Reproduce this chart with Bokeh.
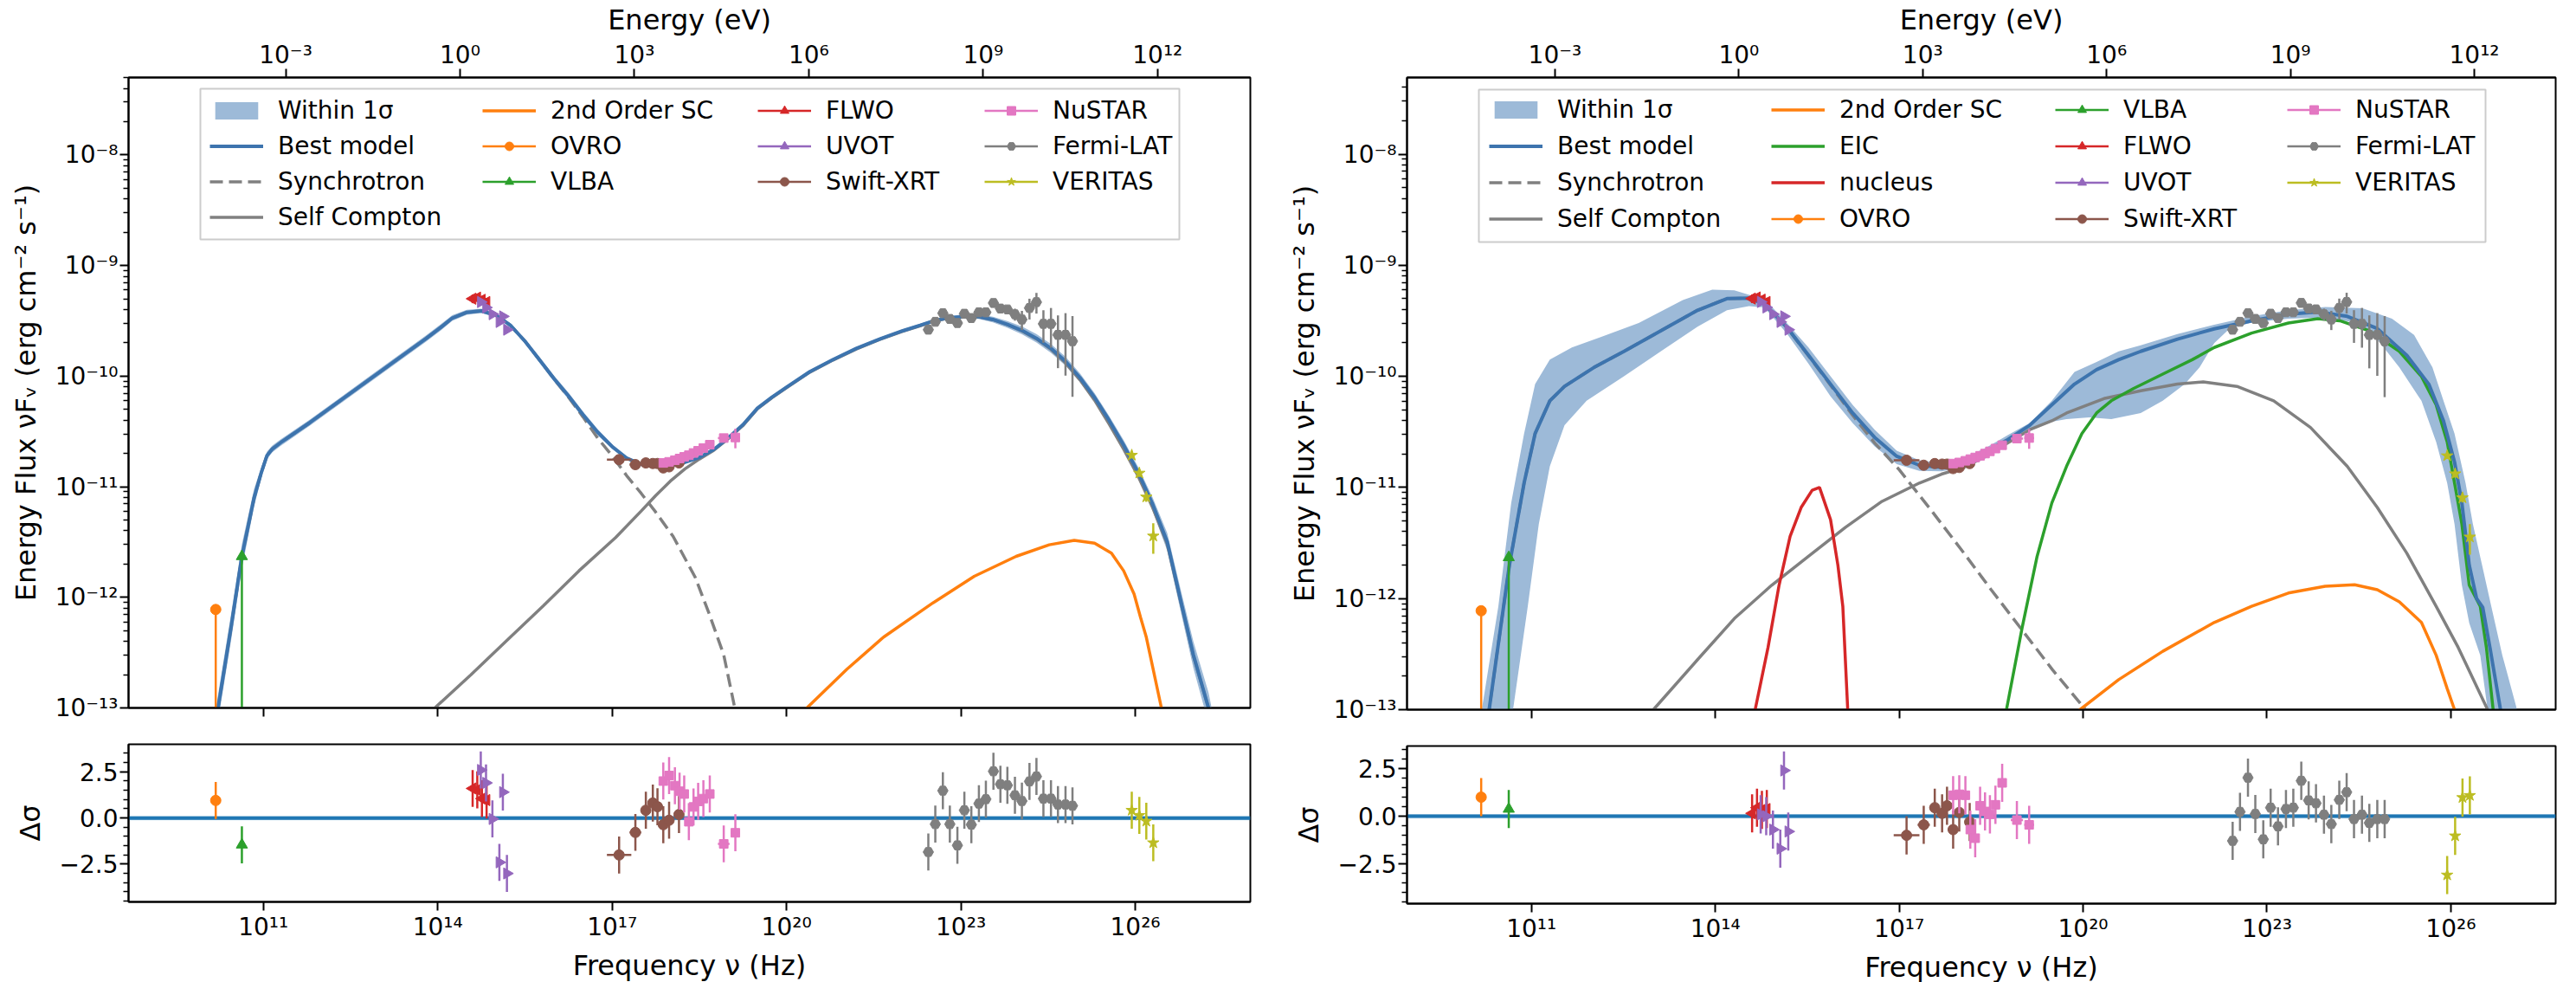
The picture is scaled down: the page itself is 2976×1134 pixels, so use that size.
import numpy as np
from bokeh.plotting import figure
from bokeh.models import (Range1d, LogAxis, LogScale, FixedTicker, Legend, LegendItem,
                          CustomJSTickFormatter, Span, BoxAnnotation)
from bokeh.layouts import row, column
from bokeh.embed import file_html
from bokeh.resources import INLINE

H_EV = 4.135667696e-15  # eV per Hz (top axis)
FONT = "DejaVu Sans"

# ------------------------------------------------------------------ data
# observations (log10 frequency in Hz, log10 nuFnu in erg cm^-2 s^-1, linear errors)
ovro_lognu = [10.18]
ovro_logF = [-12.11]
ovro_err_lo = [7.8e-13]
ovro_err_hi = [0.0]

vlba_lognu = [10.63]
vlba_logF = [-11.63]
vlba_err_lo = [2.34e-12]
vlba_err_hi = [0.0]

flwo_lognu = [14.60, 14.68, 14.76, 14.84]
flwo_logF = [-9.30, -9.29, -9.31, -9.33]
flwo_err = [4.5e-11, 4.5e-11, 4.3e-11, 4.2e-11]

uvot_lognu = [14.74, 14.83, 14.94, 15.06, 15.12, 15.19]
uvot_logF = [-9.33, -9.38, -9.44, -9.51, -9.46, -9.58]
uvot_err = [2.2e-11, 2.0e-11, 1.7e-11, 1.5e-11, 1.6e-11, 1.3e-11]

xrt_lognu = [17.12, 17.40, 17.58, 17.70, 17.78, 17.88, 17.98, 18.15]
xrt_logF = [-10.755, -10.80, -10.785, -10.79, -10.79, -10.83, -10.82, -10.785]
xrt_err = [9e-13, 8e-13, 8e-13, 8e-13, 8e-13, 7e-13, 8e-13, 8e-13]
xrt_xhw = [0.21, 0.10, 0.08, 0.06, 0.05, 0.05, 0.05, 0.06]

nustar_lognu = [17.88, 17.98, 18.08, 18.16, 18.24, 18.32, 18.40, 18.48, 18.57, 18.68, 18.92, 19.12]
nustar_logF = [-10.785, -10.775, -10.76, -10.745, -10.73, -10.715, -10.695, -10.675, -10.65,
               -10.62, -10.56, -10.555]
nustar_err = [4.9e-13, 5.0e-13, 5.2e-13, 5.4e-13, 6.5e-13, 6.8e-13, 8.1e-13, 8.5e-13, 1.0e-12,
              1.2e-12, 2.2e-12, 5.6e-12]
nustar_xhw = [0.04, 0.04, 0.04, 0.04, 0.04, 0.04, 0.04, 0.04, 0.05, 0.06, 0.10, 0.08]

fermi_lognu = [22.44, 22.56, 22.69, 22.81, 22.94, 23.06, 23.18, 23.31, 23.43, 23.56, 23.68,
               23.80, 23.93, 24.05, 24.18, 24.30, 24.42, 24.55, 24.67, 24.80, 24.92]
fermi_logF = [-9.580, -9.509, -9.431, -9.483, -9.520, -9.436, -9.475, -9.423, -9.423, -9.339,
              -9.389, -9.397, -9.441, -9.488, -9.384, -9.331, -9.527, -9.527, -9.627, -9.627,
              -9.684]
fermi_err = [1.5e-11, 1.6e-11, 1.8e-11, 1.7e-11, 1.7e-11, 2.0e-11, 2.0e-11, 2.3e-11, 2.5e-11,
             3.0e-11, 3.2e-11, 3.5e-11, 4.5e-11, 6.4e-11, 8.8e-11, 9.9e-11, 9.7e-11, 1.16e-10,
             1.18e-10, 1.35e-10, 1.42e-10]

veritas_lognu = [25.94, 26.07, 26.19, 26.31]
veritas_logF = [-10.715, -10.877, -11.093, -11.446]
veritas_err = [1.2e-12, 1.0e-12, 7.6e-13, 1.1e-12]
veritas_xhw = [0.04, 0.04, 0.04, 0.04]

# residuals (Delta sigma), left model and right model
res_left = dict(
    ovro=[0.95], vlba=[-1.45],
    flwo=[1.6, 1.52, 1.05, 0.97],
    uvot=[2.6, 1.9, -0.05, -2.4, 1.4, -3.0],
    xrt=[-2.0, -0.78, 0.42, 0.81, 0.61, -0.36, -0.12, 0.19],
    nustar=[2.0, 2.3, 1.75, 1.45, 1.3, -0.2, 0.6, 0.9, 1.05, 1.3, -1.4, -0.8],
    fermi=[-1.84, -0.33, 1.48, -0.33, -1.48, 0.42, -0.36, 0.78, 1.02, 2.53, 1.83, 1.77, 1.23,
           0.92, 1.98, 2.25, 1.05, 1.05, 0.73, 0.73, 0.66],
    veritas=[0.42, 0.14, -0.17, -1.34],
)
res_right = dict(
    ovro=[1.0], vlba=[0.38],
    flwo=[0.15, 0.45, 0.33, 0.38],
    uvot=[0.1, 0.0, -0.7, -1.7, 2.4, -0.8],
    xrt=[-1.0, -0.45, 0.45, 0.15, 0.55, -0.7, 0.2, -0.3],
    nustar=[1.1, 1.15, 1.1, -0.7, -1.15, 0.55, 0.25, 0.1, 0.6, 1.75, -0.2, -0.45],
    fermi=[-1.29, 0.23, 2.02, 0.12, -1.21, 0.45, -0.53, 0.38, 0.45, 1.86, 0.83, 0.68, 0.08,
           -0.41, 0.86, 1.26, -0.15, 0.08, -0.35, -0.15, -0.15],
    veritas=[-3.08, -1.03, 0.98, 1.09],
)

# ---- left model (SSC)
LB_lognu = [10.05, 10.22, 10.45, 10.63, 10.84, 10.96, 11.06, 11.15, 11.30, 11.80, 12.30, 12.80,
            13.30, 13.80, 14.05, 14.25, 14.50, 14.75, 15.00, 15.25, 15.50, 15.75, 16.00, 16.25,
            16.50, 16.75, 17.00, 17.25, 17.50, 17.75, 18.00, 18.25, 18.50, 18.75, 19.00, 19.25,
            19.50, 19.75, 20.00, 20.40, 20.80, 21.20, 21.60, 22.00, 22.30, 22.55, 22.80, 23.05,
            23.30, 23.55, 23.80, 24.05, 24.30, 24.55, 24.80, 25.05, 25.30, 25.55, 25.80, 26.05,
            26.30, 26.55, 26.80, 27.00, 27.26, 27.45]
LB_logF = [-13.55, -13.00, -12.25, -11.63, -11.10, -10.88, -10.72, -10.66, -10.60, -10.42,
           -10.23, -10.04, -9.85, -9.66, -9.56, -9.475, -9.423, -9.41, -9.449, -9.54, -9.684,
           -9.853, -10.023, -10.18, -10.35, -10.506, -10.637, -10.741, -10.798, -10.819,
           -10.811, -10.78, -10.736, -10.663, -10.558, -10.44, -10.29, -10.19, -10.10, -9.96,
           -9.85, -9.75, -9.665, -9.59, -9.54, -9.497, -9.472, -9.462, -9.462, -9.488, -9.532,
           -9.587, -9.658, -9.749, -9.866, -10.015, -10.193, -10.40, -10.624, -10.871, -11.159,
           -11.498, -12.07, -12.52, -13.00, -13.50]
LB_band_hw = [0.12, 0.12, 0.12, 0.11, 0.08, 0.05, 0.035, 0.03, 0.03, 0.028, 0.028, 0.028, 0.028,
              0.028, 0.028, 0.025, 0.022, 0.02, 0.018, 0.018, 0.02, 0.025, 0.028, 0.03, 0.03,
              0.028, 0.022, 0.018, 0.015, 0.013, 0.013, 0.013, 0.013, 0.013, 0.013, 0.013,
              0.013, 0.013, 0.013, 0.013, 0.013, 0.013, 0.013, 0.013, 0.014, 0.015, 0.016,
              0.018, 0.02, 0.025, 0.03, 0.035, 0.038, 0.04, 0.04, 0.04, 0.04, 0.04, 0.045, 0.05,
              0.06, 0.08, 0.10, 0.12, 0.14, 0.15]
LS_lognu = [10.05, 10.22, 10.45, 10.63, 10.84, 10.96, 11.06, 11.15, 11.30, 11.80, 12.30, 12.80,
            13.30, 13.80, 14.05, 14.25, 14.50, 14.75, 15.00, 15.25, 15.50, 15.75, 16.00, 16.25,
            16.50, 16.75, 17.00, 17.25, 17.50, 17.75, 18.05, 18.43, 18.67, 18.92, 19.11, 19.25]
LS_logF = [-13.55, -13.00, -12.25, -11.63, -11.10, -10.88, -10.72, -10.66, -10.60, -10.42,
           -10.23, -10.04, -9.85, -9.66, -9.56, -9.475, -9.423, -9.41, -9.449, -9.54, -9.684,
           -9.853, -10.025, -10.19, -10.37, -10.56, -10.72, -10.90, -11.06, -11.23, -11.45,
           -11.82, -12.15, -12.52, -13.0, -13.4]
LSC_lognu = [13.80, 13.95, 14.57, 15.19, 15.81, 16.43, 17.06, 17.50, 17.75, 18.00, 18.25, 18.50,
             18.75, 19.00, 19.25, 19.50, 19.75, 20.00, 20.40, 20.80, 21.20, 21.60, 22.00, 22.30,
             22.55, 22.80, 23.05, 23.30, 23.55, 23.80, 24.05, 24.30, 24.55, 24.80, 25.05, 25.30,
             25.55, 25.80, 26.05, 26.30, 26.55, 26.80, 27.00, 27.26, 27.45]
LSC_logF = [-13.08, -13.0, -12.70, -12.39, -12.08, -11.76, -11.46, -11.22, -11.08, -10.95,
            -10.84, -10.75, -10.67, -10.565, -10.448, -10.295, -10.195, -10.105, -9.965,
            -9.855, -9.755, -9.67, -9.595, -9.545, -9.50, -9.475, -9.464, -9.464, -9.49,
            -9.535, -9.591, -9.664, -9.758, -9.880, -10.035, -10.218, -10.432, -10.66, -10.905,
            -11.19, -11.52, -12.08, -12.53, -13.0, -13.5]
L2_lognu = [20.20, 20.35, 21.04, 21.67, 22.52, 23.23, 23.95, 24.52, 24.95, 25.30, 25.59, 25.80,
            25.98, 26.09, 26.19, 26.45, 26.55]
L2_logF = [-13.1, -13.0, -12.65, -12.36, -12.05, -11.81, -11.63, -11.525, -11.485, -11.51,
           -11.60, -11.76, -11.97, -12.18, -12.36, -13.0, -13.3]

# ---- right model (SSC + EIC + nucleus)
RB_lognu = [10.15, 10.31, 10.64, 10.88, 11.06, 11.30, 11.54, 12.02, 12.51, 13.11, 13.71, 14.19,
            14.55, 14.80, 15.16, 15.52, 15.88, 16.24, 16.60, 16.96, 17.33, 17.69, 18.05, 18.41,
            18.77, 19.13, 19.49, 19.86, 20.22, 20.58, 20.94, 21.54, 22.14, 22.75, 23.35, 23.83,
            24.31, 24.80, 25.28, 25.64, 25.88, 26.06, 26.18, 26.30, 26.42, 26.52, 26.64, 26.81,
            26.95]
RB_logF = [-13.6, -13.0, -11.70, -10.96, -10.515, -10.22, -10.09, -9.92, -9.775, -9.59, -9.405,
           -9.30, -9.295, -9.35, -9.553, -9.81, -10.07, -10.33, -10.55, -10.72, -10.80, -10.82,
           -10.775, -10.68, -10.57, -10.44, -10.256, -10.07, -9.94, -9.85, -9.775, -9.665,
           -9.572, -9.50, -9.44, -9.42, -9.46, -9.57, -9.81, -10.07, -10.40, -10.77, -11.14,
           -11.70, -12.0, -12.08, -12.45, -13.0, -13.5]
RU_lognu = [10.05, 10.19, 10.46, 10.67, 10.88, 11.06, 11.30, 11.66, 12.14, 12.75, 13.47, 13.95,
            14.31, 14.61, 14.85, 15.16, 15.52, 15.88, 16.24, 16.60, 16.96, 17.33, 17.69, 18.05,
            18.41, 18.77, 19.13, 19.49, 19.86, 20.22, 20.58, 20.94, 21.54, 22.14, 22.75, 23.35,
            23.95, 24.56, 25.04, 25.40, 25.70, 25.88, 26.06, 26.24, 26.36, 26.51, 26.66, 26.84,
            27.08, 27.20]
RU_logF = [-13.5, -13.0, -12.07, -11.14, -10.515, -10.07, -9.85, -9.74, -9.645, -9.52, -9.313,
           -9.22, -9.225, -9.276, -9.33, -9.516, -9.74, -10.0, -10.256, -10.48, -10.67, -10.755,
           -10.78, -10.737, -10.645, -10.53, -10.42, -10.22, -9.96, -9.87, -9.775, -9.72,
           -9.62, -9.535, -9.46, -9.405, -9.376, -9.387, -9.48, -9.627, -9.92, -10.22, -10.515,
           -10.96, -11.33, -11.70, -12.07, -12.51, -13.0, -13.3]
RL_lognu = [10.62, 10.70, 10.94, 11.12, 11.30, 11.54, 11.90, 12.51, 13.11, 13.71, 14.19, 14.55,
            14.80, 15.16, 15.52, 15.88, 16.24, 16.60, 16.96, 17.33, 17.69, 18.05, 18.41, 18.77,
            19.13, 19.37, 19.73, 20.10, 20.46, 20.94, 21.30, 21.66, 21.90, 22.14, 22.39, 22.75,
            23.35, 23.95, 24.43, 24.80, 25.16, 25.52, 25.76, 25.94, 26.06, 26.18, 26.30, 26.48,
            26.60, 26.70]
RL_logF = [-13.5, -13.0, -12.07, -11.33, -10.81, -10.44, -10.22, -10.0, -9.775, -9.553, -9.405,
           -9.368, -9.38, -9.61, -9.886, -10.18, -10.42, -10.63, -10.79, -10.85, -10.855,
           -10.82, -10.737, -10.61, -10.48, -10.42, -10.385, -10.37, -10.385, -10.33, -10.22,
           -10.07, -9.92, -9.70, -9.57, -9.516, -9.48, -9.47, -9.516, -9.665, -9.92, -10.22,
           -10.59, -10.96, -11.33, -11.88, -12.22, -12.51, -13.0, -13.4]
RS_lognu = [10.15, 10.31, 10.64, 10.88, 11.06, 11.30, 11.54, 12.02, 12.51, 13.11, 13.71, 14.19,
            14.55, 14.80, 15.16, 15.52, 15.88, 16.24, 16.60, 17.00, 17.50, 18.00, 18.50, 19.00,
            19.50, 20.04, 20.20]
RS_logF = [-13.6, -13.0, -11.70, -10.96, -10.515, -10.22, -10.09, -9.92, -9.775, -9.59, -9.405,
           -9.30, -9.295, -9.35, -9.555, -9.815, -10.08, -10.35, -10.60, -10.84, -11.19,
           -11.55, -11.92, -12.28, -12.64, -13.0, -13.12]
RSC_lognu = [12.80, 12.99, 13.71, 14.31, 14.92, 15.52, 16.12, 16.72, 17.33, 17.69, 18.05,
             18.41, 18.77, 19.13, 19.49, 19.73, 20.34, 20.94, 21.54, 21.96, 22.51, 23.11,
             23.71, 24.31, 24.80, 25.28, 25.76, 26.12, 26.60, 26.75]
RSC_logF = [-13.1, -13.0, -12.55, -12.18, -11.88, -11.62, -11.36, -11.125, -10.96, -10.88,
            -10.82, -10.72, -10.60, -10.48, -10.40, -10.33, -10.20, -10.13, -10.07, -10.05,
            -10.09, -10.22, -10.46, -10.81, -11.18, -11.59, -12.07, -12.44, -13.0, -13.2]
R2_lognu = [19.85, 19.95, 20.58, 21.30, 22.14, 22.75, 23.35, 23.95, 24.43, 24.80, 25.16, 25.52,
            25.76, 25.94, 26.06, 26.12]
R2_logF = [-13.04, -13.0, -12.73, -12.475, -12.215, -12.07, -11.95, -11.89, -11.876, -11.92,
           -12.03, -12.215, -12.51, -12.81, -13.0, -13.15]
REIC_lognu = [18.65, 18.75, 19.01, 19.25, 19.49, 19.73, 19.98, 20.22, 20.46, 20.82, 21.30,
              21.78, 22.14, 22.75, 23.35, 23.83, 24.19, 24.67, 25.16, 25.52, 25.76, 25.94,
              26.06, 26.18, 26.30, 26.48, 26.58, 26.69, 26.75]
REIC_logF = [-13.5, -13.0, -12.25, -11.62, -11.14, -10.81, -10.515, -10.33, -10.22, -10.11,
             -9.98, -9.85, -9.74, -9.61, -9.52, -9.48, -9.50, -9.59, -9.775, -10.0, -10.256,
             -10.59, -10.96, -11.33, -11.88, -12.07, -12.44, -13.0, -13.3]
RN_lognu = [14.60, 14.65, 14.86, 15.04, 15.22, 15.40, 15.58, 15.70, 15.88, 16.00, 16.08, 16.16,
            16.20]
RN_logF = [-13.3, -13.0, -12.44, -11.88, -11.44, -11.18, -11.025, -11.0, -11.29, -11.70, -12.07,
           -13.0, -13.4]

# axis tick positions
nu_ticks = [1e11, 1e14, 1e17, 1e20, 1e23, 1e26]
ev_ticks = [1e-3, 1e0, 1e3, 1e6, 1e9, 1e12]
flux_ticks = [1e-13, 1e-12, 1e-11, 1e-10, 1e-9, 1e-8]
res_ticks = [-2.5, 0.0, 2.5]

# legend columns (matplotlib fills columns first)
LEG_LEFT = [["Within 1\u03c3", "Best model", "Synchrotron", "Self Compton"],
            ["2nd Order SC", "OVRO", "VLBA"],
            ["FLWO", "UVOT", "Swift-XRT"],
            ["NuSTAR", "Fermi-LAT", "VERITAS"]]
LEG_RIGHT = [["Within 1\u03c3", "Best model", "Synchrotron", "Self Compton"],
             ["2nd Order SC", "EIC", "nucleus", "OVRO"],
             ["VLBA", "FLWO", "UVOT", "Swift-XRT"],
             ["NuSTAR", "Fermi-LAT", "VERITAS"]]

# ------------------------------------------------------------------ style
COL = dict(blue="#1f77b4", orange="#ff7f0e", green="#2ca02c", red="#d62728",
           purple="#9467bd", brown="#8c564b", pink="#e377c2", gray="#7f7f7f", olive="#bcbd22")
MODEL = "#3d74ae"
BAND = "#9dbad8"
COMP = "#808080"

POW_JS = """
const sup = {"0":"\u2070","1":"\u00b9","2":"\u00b2","3":"\u00b3","4":"\u2074","5":"\u2075",
             "6":"\u2076","7":"\u2077","8":"\u2078","9":"\u2079","-":"\u207b"};
const k = Math.round(Math.log10(tick));
let s = "";
for (const c of String(k)) { s += sup[c]; }
return "10" + s;
"""
RES_JS = 'return tick.toFixed(1).replace("-", "\u2212");'
EMPTY_JS = 'return "";'

flux_minor = [m * 10.0 ** d for d in range(-13, -7) for m in range(2, 10)]
res_minor = [v / 2.0 for v in range(-9, 8) if v not in (-5, 0, 5)]


def style_axis(ax):
    ax.axis_line_width = 2
    ax.major_tick_line_width = 2
    ax.minor_tick_line_width = 1.5
    ax.major_tick_in = 0
    ax.major_tick_out = 10
    ax.minor_tick_in = 0
    ax.minor_tick_out = 6
    ax.major_label_text_font = FONT
    ax.major_label_text_font_size = "28px"
    ax.major_label_text_color = "black"
    ax.axis_label_text_font = FONT
    ax.axis_label_text_font_size = "32px"
    ax.axis_label_text_font_style = "normal"
    ax.axis_label_text_color = "black"
    ax.major_label_standoff = 2
    ax.axis_label_standoff = 6


def base_fig(xr, yr, fw, fh, bl, br, bt, bb, ylog):
    p = figure(x_axis_type="log", y_axis_type="log" if ylog else "linear",
               x_range=xr, y_range=yr, frame_width=fw, frame_height=fh,
               min_border_left=bl, min_border_right=br, min_border_top=bt,
               min_border_bottom=bb, output_backend="svg", toolbar_location=None)
    p.background_fill_color = "white"
    p.border_fill_color = "white"
    p.outline_line_color = "black"
    p.outline_line_width = 2
    p.grid.visible = False
    return p


def add_points(p, lognu, yvals, elo, ehi, xhw, color, marker, size, angle=0.0, logy=True):
    nu = 10.0 ** np.asarray(lognu, dtype=float)
    y = np.asarray(yvals, dtype=float)
    lo = y - np.asarray(elo, dtype=float)
    hi = y + np.asarray(ehi, dtype=float)
    if logy:
        lo = np.maximum(lo, 1e-20)
    rv = p.segment(x0=nu, y0=lo, x1=nu, y1=hi, line_color=color, line_width=2.5)
    if xhw is not None:
        w = 10.0 ** np.asarray(xhw, dtype=float)
        p.segment(x0=nu / w, y0=y, x1=nu * w, y1=y, line_color=color, line_width=2.5)
    rs = p.scatter(x=nu, y=y, marker=marker, size=size, fill_color=color,
                   line_color=color, angle=angle)
    return [rv, rs]


def curve(p, lognu, logF, color, width=3.5, dash="solid"):
    return p.line(10.0 ** np.asarray(lognu), 10.0 ** np.asarray(logF), line_color=color,
                  line_width=width, line_dash=dash)


DATASETS = [
    # key, lognu, logF, err_lo, err_hi, xhw, color, marker, size, angle
    ("ovro", ovro_lognu, ovro_logF, ovro_err_lo, ovro_err_hi, None, COL["orange"], "circle", 12, 0.0),
    ("vlba", vlba_lognu, vlba_logF, vlba_err_lo, vlba_err_hi, None, COL["green"], "triangle", 13, 0.0),
    ("flwo", flwo_lognu, flwo_logF, flwo_err, flwo_err, None, COL["red"], "triangle", 13, np.pi / 2),
    ("uvot", uvot_lognu, uvot_logF, uvot_err, uvot_err, None, COL["purple"], "triangle", 13, -np.pi / 2),
    ("xrt", xrt_lognu, xrt_logF, xrt_err, xrt_err, xrt_xhw, COL["brown"], "circle", 12, 0.0),
    ("nustar", nustar_lognu, nustar_logF, nustar_err, nustar_err, nustar_xhw, COL["pink"], "square", 10, 0.0),
    ("fermi", fermi_lognu, fermi_logF, fermi_err, fermi_err, None, COL["gray"], "hex", 12, 0.0),
    ("veritas", veritas_lognu, veritas_logF, veritas_err, veritas_err, veritas_xhw, COL["olive"], "star", 14, 0.0),
]
NAMES = dict(ovro="OVRO", vlba="VLBA", flwo="FLWO", uvot="UVOT", xrt="Swift-XRT",
             nustar="NuSTAR", fermi="Fermi-LAT", veritas="VERITAS")


def add_legend(p, items, columns, col_x, top_y, spacing, box):
    l, r, b, t = box
    p.add_layout(BoxAnnotation(left=l, right=r, bottom=b, top=t,
                               left_units="screen", right_units="screen",
                               bottom_units="screen", top_units="screen",
                               fill_color="white", fill_alpha=0.8,
                               line_color="#cccccc", line_width=2, line_alpha=1.0))
    item_h = 36
    for names, x in zip(columns, col_x):
        n = len(names)
        h = n * item_h + (n - 1) * spacing
        leg = Legend(items=[LegendItem(label=k, renderers=items[k]) for k in names],
                     location=(x, top_y - h), orientation="vertical")
        leg.label_text_font = FONT
        leg.label_text_font_size = "28px"
        leg.label_text_color = "black"
        leg.glyph_width = 62
        leg.glyph_height = 25
        leg.label_height = item_h
        leg.label_standoff = 17
        leg.spacing = spacing
        leg.padding = 0
        leg.margin = 0
        leg.border_line_alpha = 0
        leg.background_fill_alpha = 0
        p.add_layout(leg)


def build_panel(xlo, xhi, ytop, res_lo, res_hi, fw, fh_main, fh_res, bl, br, bt,
                right_model, residuals, leg_cols, col_x, top_y, spacing, box):
    xr = Range1d(10.0 ** xlo, 10.0 ** xhi)
    p = base_fig(xr, Range1d(1e-13, 10.0 ** ytop), fw, fh_main, bl, br, bt, 21, True)
    ya = p.yaxis[0]
    ya.ticker = FixedTicker(ticks=flux_ticks, minor_ticks=flux_minor)
    ya.formatter = CustomJSTickFormatter(code=POW_JS)
    ya.axis_label = "Energy Flux \u03bdF\u1d65 (erg cm\u207b\u00b2 s\u207b\u00b9)"
    style_axis(ya)
    ya.axis_label_standoff = 12
    xa = p.xaxis[0]
    xa.ticker = FixedTicker(ticks=nu_ticks, minor_ticks=[])
    xa.formatter = CustomJSTickFormatter(code=EMPTY_JS)
    style_axis(xa)
    xa.major_label_text_font_size = "0px"
    p.extra_x_ranges = {"energy": Range1d(10.0 ** xlo * H_EV, 10.0 ** xhi * H_EV)}
    p.extra_x_scales = {"energy": LogScale()}
    ea = LogAxis(x_range_name="energy", axis_label="Energy (eV)",
                 ticker=FixedTicker(ticks=ev_ticks, minor_ticks=[]),
                 formatter=CustomJSTickFormatter(code=POW_JS))
    style_axis(ea)
    ea.major_label_standoff = 0
    ea.axis_label_standoff = 2
    p.add_layout(ea, "above")

    items = {}
    if not right_model:
        band = p.varea(x=10.0 ** np.asarray(LB_lognu),
                       y1=10.0 ** (np.asarray(LB_logF) - np.asarray(LB_band_hw)),
                       y2=10.0 ** (np.asarray(LB_logF) + np.asarray(LB_band_hw)),
                       fill_color=BAND, fill_alpha=1.0)
        sync = curve(p, LS_lognu, LS_logF, COMP, 3.5, "15 7")
        ssc = curve(p, LSC_lognu, LSC_logF, COMP, 3.5)
        sc2 = curve(p, L2_lognu, L2_logF, COL["orange"], 3.5)
        best = curve(p, LB_lognu, LB_logF, MODEL, 4)
    else:
        bx = list(RU_lognu) + list(RL_lognu)[::-1]
        by = list(RU_logF) + list(RL_logF)[::-1]
        band = p.patch(10.0 ** np.asarray(bx), 10.0 ** np.asarray(by), fill_color=BAND,
                       fill_alpha=1.0, line_alpha=0)
        sync = curve(p, RS_lognu, RS_logF, COMP, 3.5, "15 7")
        ssc = curve(p, RSC_lognu, RSC_logF, COMP, 3.5)
        sc2 = curve(p, R2_lognu, R2_logF, COL["orange"], 3.5)
        eic = curve(p, REIC_lognu, REIC_logF, COL["green"], 3.5)
        nuc = curve(p, RN_lognu, RN_logF, COL["red"], 3.5)
        best = curve(p, RB_lognu, RB_logF, MODEL, 4)
        items["EIC"] = [eic]
        items["nucleus"] = [nuc]
    items["Within 1\u03c3"] = [band]
    items["Best model"] = [best]
    items["Synchrotron"] = [sync]
    items["Self Compton"] = [ssc]
    items["2nd Order SC"] = [sc2]
    for key, ln, lf, elo, ehi, xhw, color, marker, size, ang in DATASETS:
        f = 10.0 ** np.asarray(lf)
        items[NAMES[key]] = add_points(p, ln, f, elo, ehi, xhw, color, marker, size, ang)

    add_legend(p, items, leg_cols, col_x, top_y, spacing, box)

    # residual panel
    r = base_fig(xr, Range1d(res_lo, res_hi), fw, fh_res, bl, br, 21, 88, False)
    rx = r.xaxis[0]
    rx.ticker = FixedTicker(ticks=nu_ticks, minor_ticks=[])
    rx.formatter = CustomJSTickFormatter(code=POW_JS)
    rx.axis_label = "Frequency \u03bd (Hz)"
    style_axis(rx)
    ry = r.yaxis[0]
    ry.ticker = FixedTicker(ticks=res_ticks, minor_ticks=res_minor)
    ry.formatter = CustomJSTickFormatter(code=RES_JS)
    ry.axis_label = "\u0394\u03c3"
    style_axis(ry)
    ry.axis_label_standoff = 12
    r.add_layout(BoxAnnotation(bottom=-0.12, top=0.12, fill_color=COL["blue"], fill_alpha=0.2,
                               line_alpha=0, level="underlay"))
    r.add_layout(Span(location=0, dimension="width", line_color=COL["blue"], line_width=4,
                      level="underlay"))
    for key, ln, lf, elo, ehi, xhw, color, marker, size, ang in DATASETS:
        res = residuals[key]
        ones = [1.0] * len(res)
        add_points(r, ln, res, ones, ones, xhw, color, marker, size, ang, logy=False)
    return p, r


mainL, resL = build_panel(8.68, 27.98, -7.30, -4.54, 3.99, 1296, 728, 182, 148, 40, 76,
                          False, res_left, LEG_LEFT, [94, 409, 727, 989], 708, 5,
                          (83, 1214, 541, 715))
mainR, resR = build_panel(8.97, 27.71, -7.31, -4.58, 3.68, 1327, 730, 182, 140, 8, 77,
                          True, res_right, LEG_RIGHT, [95, 421, 749, 1017], 711, 6,
                          (83, 1246, 540, 716))

layout = row(column(mainL, resL), column(mainR, resR))
open("out.html", "w", encoding="utf-8").write(file_html(layout, INLINE, title="SED fit"))
